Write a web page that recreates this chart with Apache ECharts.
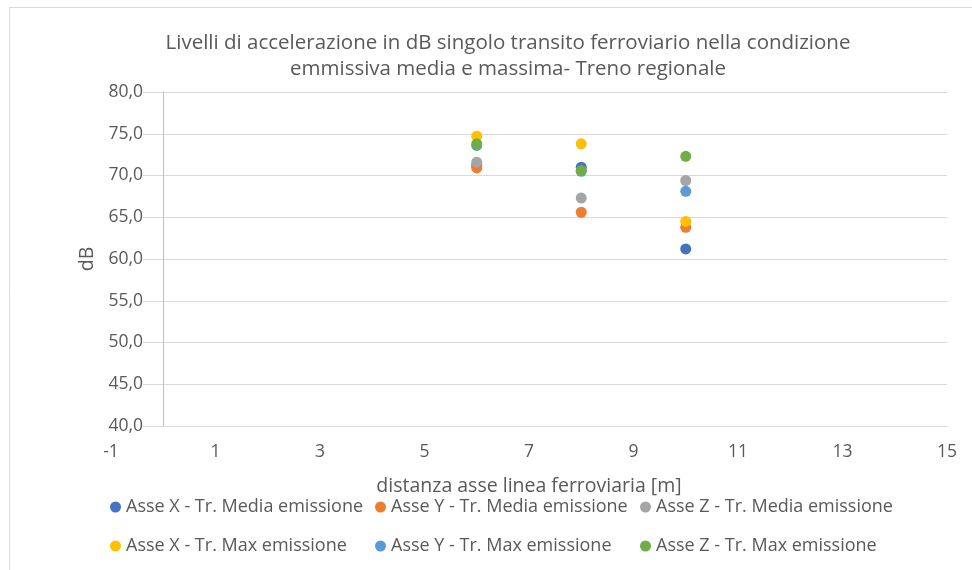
<!DOCTYPE html>
<html>
<head>
<meta charset="utf-8">
<script src="https://cdn.jsdelivr.net/npm/echarts@6/dist/echarts.min.js"></script>
<style>
  html, body { margin: 0; padding: 0; background: #fff; }
  #chart { width: 972px; height: 570px; }
</style>
</head>
<body>
<div id="chart"></div>
<script>
const distances = [6, 8, 10];
const xTicks = [-1, 1, 3, 5, 7, 9, 11, 13, 15];
const seriesNames = [
  "Asse X - Tr. Media emissione",
  "Asse Y - Tr. Media emissione",
  "Asse Z - Tr. Media emissione",
  "Asse X - Tr. Max emissione",
  "Asse Y - Tr. Max emissione",
  "Asse Z - Tr. Max emissione"
];
const xMedia = [71.2, 71.0, 61.2];
const yMedia = [70.9, 65.6, 63.8];
const zMedia = [71.6, 67.3, 69.4];
const xMax = [74.7, 73.8, 64.5];
const yMax = [73.6, 70.5, 68.1];
const zMax = [73.8, 70.6, 72.3];

const colors = ["#4472C4", "#ED7D31", "#A5A5A5", "#FFC000", "#5B9BD5", "#70AD47"];
const values = [xMedia, yMedia, zMedia, xMax, yMax, zMax];
const font = "'Open Sans', 'Liberation Sans', sans-serif";
const textColor = "#595959";

// legend slots: three columns, two rows
const legendLeft = [110, 375, 640];
const legendTop = [498, 537];

const chart = echarts.init(document.getElementById("chart"));

const series = values.map((vals, i) => ({
  name: seriesNames[i],
  type: "scatter",
  symbolSize: 11,
  itemStyle: { color: colors[i], opacity: 1 },
  data: distances.map((d, j) => [d, vals[j]])
}));

const legends = seriesNames.map((name, i) => ({
  data: [name],
  left: legendLeft[i % 3],
  top: legendTop[Math.floor(i / 3)],
  icon: "circle",
  itemWidth: 11,
  itemHeight: 11,
  padding: 0,
  textStyle: { fontFamily: font, fontSize: 18, color: textColor },
  selectedMode: false
}));

chart.setOption({
  animation: false,
  color: colors,
  textStyle: { fontFamily: font },
  title: {
    text: "Livelli di accelerazione in dB singolo transito ferroviario nella condizione\nemmissiva media e massima- Treno regionale",
    left: 503,
    top: 25,
    textAlign: "center",
    textStyle: { fontFamily: font, fontSize: 20.5, fontWeight: "normal", color: textColor, lineHeight: 26 }
  },
  graphic: [{
    type: "rect",
    shape: { x: 9.5, y: 7.5, width: 1000, height: 1000 },
    style: { fill: "none", stroke: "#d9d9d9", lineWidth: 1 },
    silent: true
  }],
  legend: legends,
  grid: { left: 111, right: 25, top: 92, bottom: 144 },
  xAxis: {
    type: "value",
    min: -1,
    max: 15,
    interval: 2,
    name: "distanza asse linea ferroviaria [m]",
    nameLocation: "middle",
    nameGap: 50,
    nameTextStyle: { fontFamily: font, fontSize: 19.5, color: textColor },
    axisLine: { show: true, lineStyle: { color: "#d9d9d9" } },
    axisTick: { show: false },
    splitLine: { show: false },
    axisLabel: {
      fontFamily: font, fontSize: 17.5, color: textColor, margin: 17,
      customValues: xTicks
    }
  },
  yAxis: {
    type: "value",
    min: 40,
    max: 80,
    interval: 5,
    offset: -52,
    name: "dB",
    nameLocation: "middle",
    nameGap: 62,
    nameTextStyle: { fontFamily: font, fontSize: 19.5, color: textColor },
    axisLine: { show: true, onZero: false, lineStyle: { color: "#bfbfbf" } },
    axisTick: { show: false },
    splitLine: { show: true, lineStyle: { color: "#d9d9d9" } },
    axisLabel: {
      fontFamily: font, fontSize: 17.5, color: textColor, margin: 20,
      backgroundColor: "#fff",
      formatter: v => v.toFixed(1).replace(".", ",")
    }
  },
  series: series
});
</script>
</body>
</html>
